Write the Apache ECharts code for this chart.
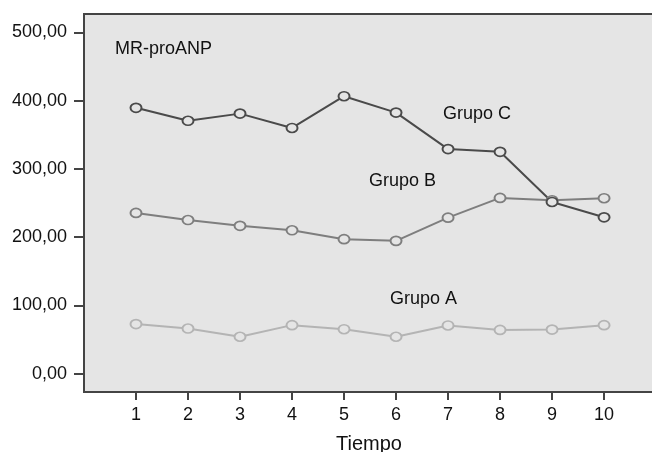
<!DOCTYPE html>
<html>
<head>
<meta charset="utf-8">
<script src="https://cdn.jsdelivr.net/npm/echarts@6/dist/echarts.min.js"></script>
<style>
html,body{margin:0;padding:0;background:#fff;}
#chart{width:652px;height:452px;}
</style>
</head>
<body>
<div id="chart"></div>
<script>
var tiempo = [1, 2, 3, 4, 5, 6, 7, 8, 9, 10];
var grupoA = [72.5, 66, 54, 71, 65, 54, 70.5, 64, 64.5, 71];
var grupoB = [235.5, 225, 216.5, 210, 197, 194.5, 228.5, 257.5, 254, 257];
var grupoC = [389.5, 370.5, 381, 360, 406.5, 382.5, 329, 325, 251.5, 229];
var yTicks = [0, 100, 200, 300, 400, 500];
var xTicks = [1, 2, 3, 4, 5, 6, 7, 8, 9, 10];

var FONT = '"Liberation Sans", Arial, Helvetica, sans-serif';
var BG = '#e5e5e5';

function pairs(vals) {
  return tiempo.map(function (t, i) { return [t, vals[i]]; });
}
function mkSeries(name, vals, color, width) {
  return {
    name: name,
    type: 'line',
    data: pairs(vals),
    symbol: 'circle',
    symbolSize: [11, 9],
    lineStyle: { color: color, width: width },
    itemStyle: { color: BG, borderColor: color, borderWidth: 1.8 },
    emphasis: { disabled: true },
    animation: false
  };
}

var chart = echarts.init(document.getElementById('chart'), null, { renderer: 'canvas' });
chart.setOption({
  animation: false,
  backgroundColor: '#ffffff',
  grid: {
    left: 84, top: 14, right: -2, bottom: 60,
    containLabel: false, outerBoundsMode: 'none',
    show: true, backgroundColor: BG, borderColor: '#444', borderWidth: 2
  },
  xAxis: {
    type: 'value', min: 0, max: 10.96,
    name: 'Tiempo', nameLocation: 'middle', nameGap: 42,
    nameTextStyle: { fontFamily: FONT, fontSize: 20, color: '#111' },
    axisLine: { show: true, onZero: false, lineStyle: { color: '#444', width: 2 } },
    axisTick: { show: true, customValues: xTicks, length: 8, inside: false, lineStyle: { color: '#444', width: 2 } },
    axisLabel: { customValues: xTicks, margin: 14, fontFamily: FONT, fontSize: 18, color: '#111' },
    splitLine: { show: false }
  },
  yAxis: {
    type: 'value', min: -27, max: 527,
    axisLine: { show: true, onZero: false, lineStyle: { color: '#444', width: 2 } },
    axisTick: { show: true, customValues: yTicks, length: 10, inside: false, lineStyle: { color: '#444', width: 2 } },
    axisLabel: {
      customValues: yTicks, margin: 17, fontFamily: FONT, fontSize: 18, color: '#111',
      formatter: function (v) { return v.toFixed(2).replace('.', ','); }
    },
    splitLine: { show: false }
  },
  graphic: [
    { type: 'text', left: 115, top: 40, silent: true,
      style: { text: 'MR-proANP', font: '18px ' + FONT, fill: '#111' } },
    { type: 'text', left: 443, top: 105, silent: true,
      style: { text: 'Grupo C', font: '18px ' + FONT, fill: '#111' } },
    { type: 'text', left: 369, top: 172, silent: true,
      style: { text: 'Grupo B', font: '18px ' + FONT, fill: '#111' } },
    { type: 'text', left: 390, top: 290, silent: true,
      style: { text: 'Grupo A', font: '18px ' + FONT, fill: '#111' } }
  ],
  series: [
    mkSeries('Grupo A', grupoA, '#b4b4b4', 2),
    mkSeries('Grupo B', grupoB, '#7e7e7e', 2),
    mkSeries('Grupo C', grupoC, '#4a4a4a', 2)
  ]
});
</script>
</body>
</html>
